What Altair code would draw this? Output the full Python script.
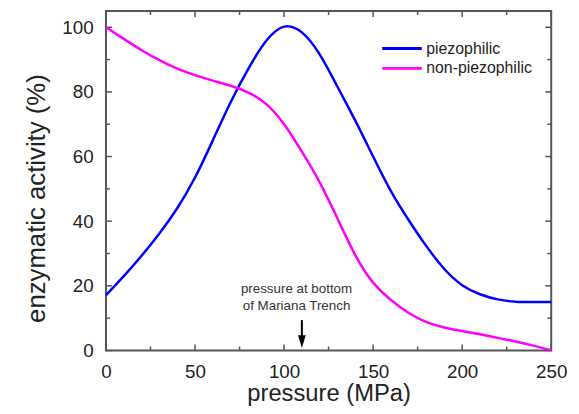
import altair as alt
import pandas as pd

# ---- data ----
pressure = [0, 10, 20, 30, 40, 50, 60, 70, 80, 90, 100, 110, 120, 130,
            140, 150, 160, 170, 180, 190, 200, 210, 220, 230, 240, 250]
piezophilic = [17.1, 23.0, 29.3, 36.2, 44.0, 53.5, 65.0, 76.8, 87.2, 95.8,
               100.2, 98.4, 91.6, 81.6, 71.1, 60.0, 49.3, 40.3, 32.2, 25.2,
               20.2, 17.4, 15.8, 15.1, 15.0, 15.0]
non_piezophilic = [100.0, 96.4, 92.9, 89.8, 87.2, 85.2, 83.5, 81.9, 79.8, 76.2,
                   70.0, 61.5, 52.0, 40.8, 29.5, 21.0, 15.6, 11.6, 8.8, 7.1,
                   6.0, 5.0, 3.9, 2.8, 1.5, 0.0]
series_names = ["piezophilic", "non-piezophilic"]
series_colors = ["#0000ff", "#ff00ff"]

x_major = [0, 50, 100, 150, 200, 250]
x_minor = [25, 75, 125, 175, 225]
y_major = [0, 20, 40, 60, 80, 100]
y_minor = [10, 30, 50, 70, 90]

annotation_lines = ["pressure at bottom", "of Mariana Trench"]
annotation_y = [19.1, 13.7]
annotation_x = [107, 107]
trench_pressure = [110]
arrow_top = [9.4]
arrow_end = [3.0]
arrow_head = [2.75]

W, H = 450, 343
FONT = "Liberation Sans"
FRAME = "#555555"
TXT = "#222222"

curves = pd.DataFrame({
    "pressure": pressure * 2,
    "activity": piezophilic + non_piezophilic,
    "series": [series_names[0]] * len(pressure) + [series_names[1]] * len(pressure),
})

xs = alt.Scale(domain=[0, 250], nice=False, zero=False)
ys = alt.Scale(domain=[0, 105], nice=False, zero=False)

xaxis = alt.Axis(values=x_major, ticks=False, domain=False, grid=False,
                 labelFontSize=19, labelPadding=12, labelFlush=False,
                 labelColor=TXT, labelFont=FONT,
                 title="pressure (MPa)", titleFontSize=24,
                 titleFontWeight="normal", titleFont=FONT, titleColor=TXT,
                 titleX=225, titleY=44, titleAlign="center",
                 titleBaseline="middle")
yaxis = alt.Axis(values=y_major, ticks=False, domain=False, grid=False,
                 labelFontSize=19, labelPadding=13, labelColor=TXT,
                 labelFont=FONT,
                 title="enzymatic activity (%)", titleFontSize=26,
                 titleFontWeight="normal", titleFont=FONT, titleColor=TXT,
                 titleX=-70, titleY=189, titleAlign="center",
                 titleBaseline="middle")

lines = alt.Chart(curves).mark_line(strokeWidth=2.5, interpolate="natural").encode(
    x=alt.X("pressure:Q", scale=xs, axis=xaxis),
    y=alt.Y("activity:Q", scale=ys, axis=yaxis),
    color=alt.Color("series:N",
                    scale=alt.Scale(domain=series_names, range=series_colors),
                    sort=series_names,
                    legend=alt.Legend(title=None, orient="none", legendX=287.7,
                                      legendY=26.4, symbolType="M-2,0H2",
                                      symbolSize=400, symbolStrokeWidth=3,
                                      labelFontSize=16, labelOffset=13, padding=0,
                                      rowPadding=0, labelColor=TXT,
                                      labelFont=FONT)),
)


def ticks(values, side, length):
    df = pd.DataFrame({"v": values})
    base = alt.Chart(df).mark_rule(color=FRAME, strokeWidth=1.5)
    if side == "bottom":
        enc = dict(x=alt.X("v:Q", scale=xs, axis=xaxis), y=alt.value(H), y2=alt.value(H - length))
    elif side == "top":
        enc = dict(x=alt.X("v:Q", scale=xs, axis=xaxis), y=alt.value(0), y2=alt.value(length))
    elif side == "left":
        enc = dict(y=alt.Y("v:Q", scale=ys, axis=yaxis), x=alt.value(0), x2=alt.value(length))
    else:
        enc = dict(y=alt.Y("v:Q", scale=ys, axis=yaxis), x=alt.value(W), x2=alt.value(W - length))
    return base.encode(**enc)


tick_layers = []
for side in ["bottom", "top"]:
    tick_layers.append(ticks(x_major, side, 6))
    tick_layers.append(ticks(x_minor, side, 4))
for side in ["left", "right"]:
    tick_layers.append(ticks(y_major, side, 6))
    tick_layers.append(ticks(y_minor, side, 4))

ann = alt.Chart(pd.DataFrame({"x": annotation_x, "y": annotation_y,
                              "t": annotation_lines})).mark_text(
    fontSize=13.5, font=FONT, color="#333333", align="center", baseline="middle"
).encode(x=alt.X("x:Q", scale=xs, axis=xaxis), y=alt.Y("y:Q", scale=ys, axis=yaxis),
         text="t:N")

arrow_df = pd.DataFrame({"x": trench_pressure, "y1": arrow_top, "y2": arrow_end,
                         "yh": arrow_head})
shaft = alt.Chart(arrow_df).mark_rule(color="black", strokeWidth=2).encode(
    x=alt.X("x:Q", scale=xs, axis=xaxis), y=alt.Y("y1:Q", scale=ys, axis=yaxis),
    y2="y2:Q")
head = alt.Chart(arrow_df).mark_point(shape="M-0.6,-1L0.6,-1L0,1Z", filled=True,
                                      size=169, color="black", opacity=1).encode(
    x=alt.X("x:Q", scale=xs, axis=xaxis), y=alt.Y("yh:Q", scale=ys, axis=yaxis))

chart = alt.layer(*tick_layers, ann, shaft, head, lines).properties(
    width=W, height=H,
    autosize=alt.AutoSizeParams(type="none"),
    padding={"left": 99, "top": 1, "right": 20, "bottom": 54},
    background="white",
).configure_view(stroke=FRAME, strokeWidth=2)

chart.save("out.html", embed_options={"renderer": "svg", "actions": False})
